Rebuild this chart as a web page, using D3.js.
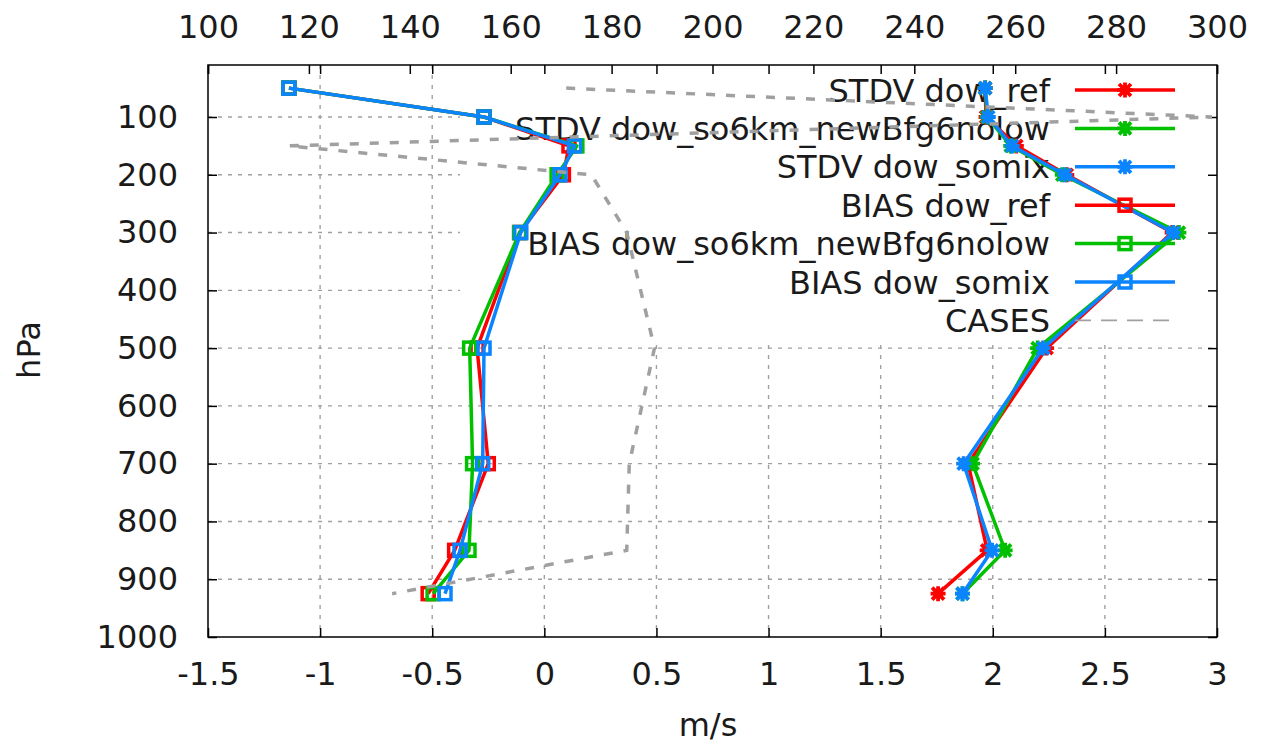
<!DOCTYPE html>
<html>
<head>
<meta charset="utf-8">
<script src="https://cdn.jsdelivr.net/npm/d3@7"></script>
<style>
  html, body { margin: 0; padding: 0; background: #fff; }
  svg { display: block; font-family: "DejaVu Sans", sans-serif; }
</style>
</head>
<body>
<svg id="chart" width="1263" height="744"></svg>
<script>
// Pressure levels (hPa) shared by every profile
const levels = [50, 100, 150, 200, 300, 500, 700, 850, 925];

// Standard deviation of wind error (m/s)
const stdvRef    = [1.966, 1.970, 2.105, 2.330, 2.800, 2.240, 1.890, 1.975, 1.756];
const stdvSo6km  = [1.966, 1.975, 2.080, 2.310, 2.830, 2.200, 1.910, 2.055, 1.865];
const stdvSomix  = [1.966, 1.980, 2.086, 2.322, 2.805, 2.225, 1.870, 1.997, 1.865];

// Bias of wind error (m/s)
const biasRef    = [-1.139, -0.269, 0.110, 0.085, -0.110, -0.300, -0.250, -0.400, -0.518];
const biasSo6km  = [-1.139, -0.269, 0.145, 0.057, -0.110, -0.333, -0.320, -0.336, -0.496];
const biasSomix  = [-1.139, -0.269, 0.135, 0.070, -0.105, -0.269, -0.275, -0.376, -0.443];

// Number of cases per level (upper axis)
const cases = [171, 299, 116, 176, 183, 188.5, 183.5, 183, 136.5];

// Tick values
const xTicks  = [-1.5, -1, -0.5, 0, 0.5, 1, 1.5, 2, 2.5, 3];
const x2Ticks = [100, 120, 140, 160, 180, 200, 220, 240, 260, 280, 300];
const yTicks  = [100, 200, 300, 400, 500, 600, 700, 800, 900, 1000];

const legendLabels = [
  "STDV dow_ref", "STDV dow_so6km_newBfg6nolow", "STDV dow_somix",
  "BIAS dow_ref", "BIAS dow_so6km_newBfg6nolow", "BIAS dow_somix", "CASES"
];

const RED = "#ff0000", GREEN = "#00c000", BLUE = "#0a84ff", GREY = "#a0a0a0";

const plotL = 208, plotR = 1217, plotT = 65, plotB = 637;
const fontSize = 32;
const FONT = "'DejaVu Sans', sans-serif";

const svg = d3.select("#chart");

const x  = d3.scaleLinear().domain([-1.5, 3]).range([plotL, plotR]);
const x2 = d3.scaleLinear().domain([100, 300]).range([plotL, plotR]);
const y  = d3.scaleLinear().domain([10, 1000]).range([plotT, plotB]);

// Dotted grid
const grid = svg.append("g")
  .attr("stroke", GREY).attr("stroke-width", 1.4).attr("stroke-dasharray", "4,6");
xTicks.filter(v => v > -1.5 && v < 3).forEach(v => {
  grid.append("line").attr("x1", x(v)).attr("x2", x(v)).attr("y1", plotT).attr("y2", plotB);
});
yTicks.filter(v => v < 1000).forEach(v => {
  grid.append("line").attr("x1", plotL).attr("x2", plotR).attr("y1", y(v)).attr("y2", y(v));
});

// Opaque key box hides the grid underneath
svg.append("rect").attr("x", 460).attr("y", plotT).attr("width", plotR - 460).attr("height", 340 - plotT)
  .attr("fill", "#fff");

// Axes with inward ticks
function styleAxis(g) {
  g.selectAll(".domain").remove();
  g.selectAll(".tick line").attr("stroke", "#000").attr("stroke-width", 1.5);
  g.selectAll(".tick text").attr("fill", "#1a1a1a").attr("font-size", fontSize)
    .attr("font-family", FONT);
}
const fmt = d => String(d);

svg.append("g").attr("transform", `translate(0,${plotB})`)
  .call(d3.axisBottom(x).tickValues(xTicks).tickFormat(fmt).tickSize(-9).tickPadding(25))
  .call(styleAxis);
svg.append("g").attr("transform", `translate(0,${plotT})`)
  .call(d3.axisTop(x).tickValues(xTicks).tickFormat("").tickSize(-9))
  .call(styleAxis);
svg.append("g").attr("transform", `translate(0,${plotT})`)
  .call(d3.axisTop(x2).tickValues(x2Ticks).tickFormat(fmt).tickSize(-9).tickPadding(27))
  .call(styleAxis);
svg.append("g").attr("transform", `translate(${plotL},0)`)
  .call(d3.axisLeft(y).tickValues(yTicks).tickFormat(fmt).tickSize(-9).tickPadding(30))
  .call(styleAxis);
svg.append("g").attr("transform", `translate(${plotR},0)`)
  .call(d3.axisRight(y).tickValues(yTicks).tickFormat("").tickSize(-9))
  .call(styleAxis);

// Frame
svg.append("rect").attr("x", plotL).attr("y", plotT).attr("width", plotR - plotL).attr("height", plotB - plotT)
  .attr("fill", "none").attr("stroke", "#000").attr("stroke-width", 1.5);

// Axis titles
svg.append("text").attr("x", 708).attr("y", 736).attr("text-anchor", "middle")
  .attr("font-size", fontSize).attr("fill", "#1a1a1a").text("m/s");
svg.append("text").attr("transform", "translate(40,350) rotate(-90)").attr("text-anchor", "middle")
  .attr("font-size", fontSize).attr("fill", "#1a1a1a").text("hPa");

// Legend text
const keyTextX = 1050, keyY0 = 90, keyStep = 38.4;
const keySampleX1 = 1075, keySampleX2 = 1175, keySymX = 1125;
legendLabels.forEach((t, i) => {
  svg.append("text").attr("x", keyTextX).attr("y", keyY0 + i * keyStep).attr("dy", "0.36em")
    .attr("text-anchor", "end").attr("font-size", fontSize).attr("fill", "#1a1a1a").text(t);
});

// Markers
function star(g, cx, cy, color) {
  const r = 7.5;
  g.append("path")
    .attr("d", `M${cx - r},${cy}L${cx + r},${cy}M${cx},${cy - r}L${cx},${cy + r}` +
               `M${cx - r * 0.8},${cy - r * 0.8}L${cx + r * 0.8},${cy + r * 0.8}` +
               `M${cx - r * 0.8},${cy + r * 0.8}L${cx + r * 0.8},${cy - r * 0.8}`)
    .attr("stroke", color).attr("stroke-width", 3.8).attr("fill", "none");
}
function square(g, cx, cy, color) {
  const s = 12;
  g.append("rect").attr("x", cx - s / 2).attr("y", cy - s / 2).attr("width", s).attr("height", s)
    .attr("fill", "none").attr("stroke", color).attr("stroke-width", 3.5);
}

const series = [
  { vals: stdvRef,   color: RED,   mark: star },
  { vals: stdvSo6km, color: GREEN, mark: star },
  { vals: stdvSomix, color: BLUE,  mark: star },
  { vals: biasRef,   color: RED,   mark: square },
  { vals: biasSo6km, color: GREEN, mark: square },
  { vals: biasSomix, color: BLUE,  mark: square }
];

const line = d3.line().x(d => x(d[0])).y(d => y(d[1]));

series.forEach((s, i) => {
  const g = svg.append("g");
  const pts = s.vals.map((v, k) => [v, levels[k]]);
  g.append("path").attr("d", line(pts)).attr("fill", "none")
    .attr("stroke", s.color).attr("stroke-width", 3.5).attr("stroke-linejoin", "round");
  pts.forEach(p => s.mark(g, x(p[0]), y(p[1]), s.color));
  // key sample
  const ky = keyY0 + i * keyStep;
  g.append("line").attr("x1", keySampleX1).attr("x2", keySampleX2).attr("y1", ky).attr("y2", ky)
    .attr("stroke", s.color).attr("stroke-width", 3.5);
  s.mark(g, keySymX, ky, s.color);
});

// Cases profile on the upper axis
const casesLine = d3.line().x(d => x2(d[0])).y(d => y(d[1]));
svg.append("path").attr("d", casesLine(cases.map((v, k) => [v, levels[k]])))
  .attr("fill", "none").attr("stroke", GREY).attr("stroke-width", 3.5).attr("stroke-dasharray", "9,11");
const casesKeyY = keyY0 + 6 * keyStep;
svg.append("line").attr("x1", keySampleX1).attr("x2", keySampleX2).attr("y1", casesKeyY).attr("y2", casesKeyY)
  .attr("stroke", GREY).attr("stroke-width", 1.6).attr("stroke-dasharray", "16,10");
</script>
</body>
</html>
